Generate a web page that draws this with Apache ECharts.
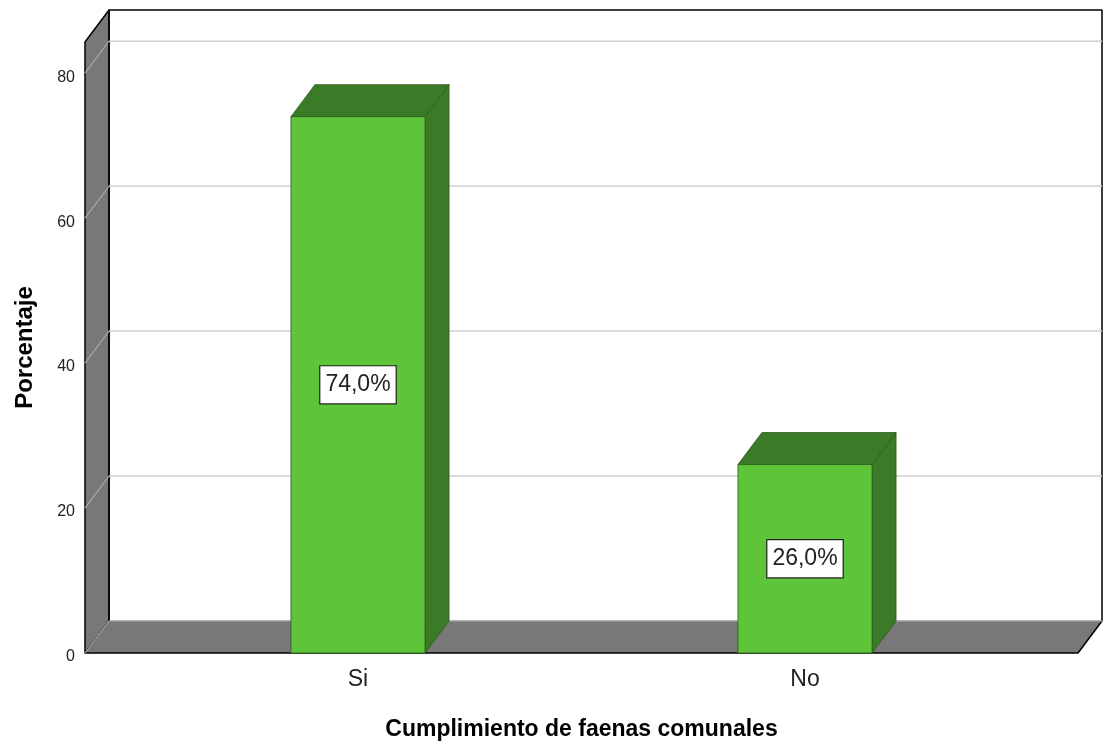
<!DOCTYPE html>
<html>
<head>
<meta charset="utf-8">
<script src="https://cdn.jsdelivr.net/npm/echarts@6/dist/echarts.min.js"></script>
<style>html,body{margin:0;padding:0;background:#fff;}#c{width:1104px;height:742px;}</style>
</head>
<body>
<div id="c"></div>
<script>
const categories = ['Si', 'No'];
const percentages = [74.0, 26.0];
const percentLabels = ['74,0%', '26,0%'];
const yTicks = [0, 20, 40, 60, 80];
const yMax = 84.3;

const DX = 24, DY = -32;
const FONT = '"Liberation Sans", Arial, sans-serif';

const chart = echarts.init(document.getElementById('c'));

function wallsRender(params, api) {
  const bl = api.coord([0, 0]);
  const tr = api.coord([1, yMax]);
  const L = bl[0], B = bl[1], R = tr[0], T = tr[1];
  const gray = '#787878';
  const stroke = { stroke: '#000', lineWidth: 1.5, lineJoin: 'round' };
  return {
    type: 'group',
    children: [
      { type: 'polygon', shape: { points: [[L + DX, T + DY], [R + DX, T + DY], [R + DX, B + DY], [L + DX, B + DY]] },
        style: { fill: '#fff', stroke: null } },
      { type: 'polyline', shape: { points: [[L + DX, B + DY], [L + DX, T + DY], [R + DX, T + DY], [R + DX, B + DY]] },
        style: Object.assign({ fill: null }, stroke), z2: 10 },
      { type: 'polygon', shape: { points: [[L, B], [L, T], [L + DX, T + DY], [L + DX, B + DY]] },
        style: Object.assign({ fill: gray }, stroke), z2: 5 },
      { type: 'polygon', shape: { points: [[L, B], [R, B], [R + DX, B + DY], [L + DX, B + DY]] },
        style: { fill: gray, stroke: null }, z2: 5 },
      { type: 'polyline', shape: { points: [[L, B], [R, B], [R + DX, B + DY]] },
        style: Object.assign({ fill: null }, stroke), z2: 6 }
    ]
  };
}

function gridRender(params, api) {
  const v = api.value(0);
  const l = api.coord([0, v]);
  const r = api.coord([1, v]);
  return {
    type: 'group',
    children: [
      { type: 'line', shape: { x1: l[0] + DX, y1: l[1] + DY, x2: r[0] + DX, y2: r[1] + DY },
        style: { stroke: v === 0 ? '#9a9a9a' : '#cfcfcf', lineWidth: 1.5 } },
      { type: 'line', shape: { x1: l[0], y1: l[1], x2: l[0] + DX, y2: l[1] + DY },
        style: { stroke: '#a6a6a6', lineWidth: 1.2 } }
    ]
  };
}

function barRender(params, api) {
  const idx = api.value(0);
  const top = api.coord([idx, api.value(1)]);
  const base = api.coord([idx, 0]);
  const band = api.size([1, 0])[0];
  const w = band * 0.3;
  const x0 = top[0] - w / 2, x1 = top[0] + w / 2;
  const yT = top[1], yB = base[1];
  const front = '#5ec43a', dark = '#3b7a27', edge = '#2c5a1d';
  return {
    type: 'group',
    children: [
      { type: 'polygon', shape: { points: [[x1, yB], [x1, yT], [x1 + DX, yT + DY], [x1 + DX, yB + DY]] },
        style: { fill: dark, stroke: edge, lineWidth: 0.8 } },
      { type: 'polygon', shape: { points: [[x0, yT], [x1, yT], [x1 + DX, yT + DY], [x0 + DX, yT + DY]] },
        style: { fill: dark, stroke: edge, lineWidth: 0.8 } },
      { type: 'rect', shape: { x: x0, y: yT, width: w, height: yB - yT },
        style: { fill: front, stroke: edge, lineWidth: 0.8 } },
      { type: 'text', x: top[0], y: (yT + yB) / 2, z2: 20,
        style: { text: percentLabels[idx], fill: '#222', font: '23px ' + FONT,
          align: 'center', verticalAlign: 'middle',
          backgroundColor: '#fff', borderColor: '#222', borderWidth: 1.2,
          padding: [8, 5, 6, 5] } }
    ]
  };
}

chart.setOption({
  animation: false,
  backgroundColor: '#fff',
  grid: [
    { left: 85, right: 26, top: 42, bottom: 89, outerBoundsMode: 'none', containLabel: false },
    { left: 134.5, right: 75.5, top: 42, bottom: 89, outerBoundsMode: 'none', containLabel: false }
  ],
  xAxis: [
    { type: 'value', gridIndex: 0, min: 0, max: 1, show: false },
    { type: 'category', gridIndex: 1, data: categories,
      axisLine: { show: false }, axisTick: { show: false },
      axisLabel: { fontSize: 23, color: '#222', fontFamily: FONT, margin: 15 },
      name: 'Cumplimiento de faenas comunales', nameLocation: 'middle', nameGap: 65,
      nameTextStyle: { fontSize: 23, fontWeight: 'bold', color: '#000', fontFamily: FONT } }
  ],
  yAxis: [
    { type: 'value', gridIndex: 0, min: 0, max: yMax, interval: 20,
      axisLine: { show: false }, axisTick: { show: false }, splitLine: { show: false },
      axisLabel: { color: '#222', fontFamily: FONT, margin: 10,
        formatter: function (v) { return yTicks.indexOf(v) >= 0 ? '{t|' + v + '}' : ''; },
        rich: { t: { fontSize: 16, color: '#222', fontFamily: FONT, padding: [8, 0, 0, 0] } } },
      name: 'Porcentaje', nameLocation: 'middle', nameGap: 48,
      nameTextStyle: { fontSize: 24, fontWeight: 'bold', color: '#000', fontFamily: FONT } },
    { type: 'value', gridIndex: 1, min: 0, max: yMax, show: false }
  ],
  series: [
    { type: 'custom', xAxisIndex: 0, yAxisIndex: 0, z: 1, silent: true,
      renderItem: wallsRender, data: [[0]] },
    { type: 'custom', xAxisIndex: 0, yAxisIndex: 0, z: 2, silent: true,
      renderItem: gridRender, data: yTicks.map(function (v) { return [v]; }) },
    { type: 'custom', xAxisIndex: 1, yAxisIndex: 1, z: 3,
      renderItem: barRender,
      data: categories.map(function (c, i) { return [i, percentages[i]]; }) }
  ]
});
</script>
</body>
</html>
